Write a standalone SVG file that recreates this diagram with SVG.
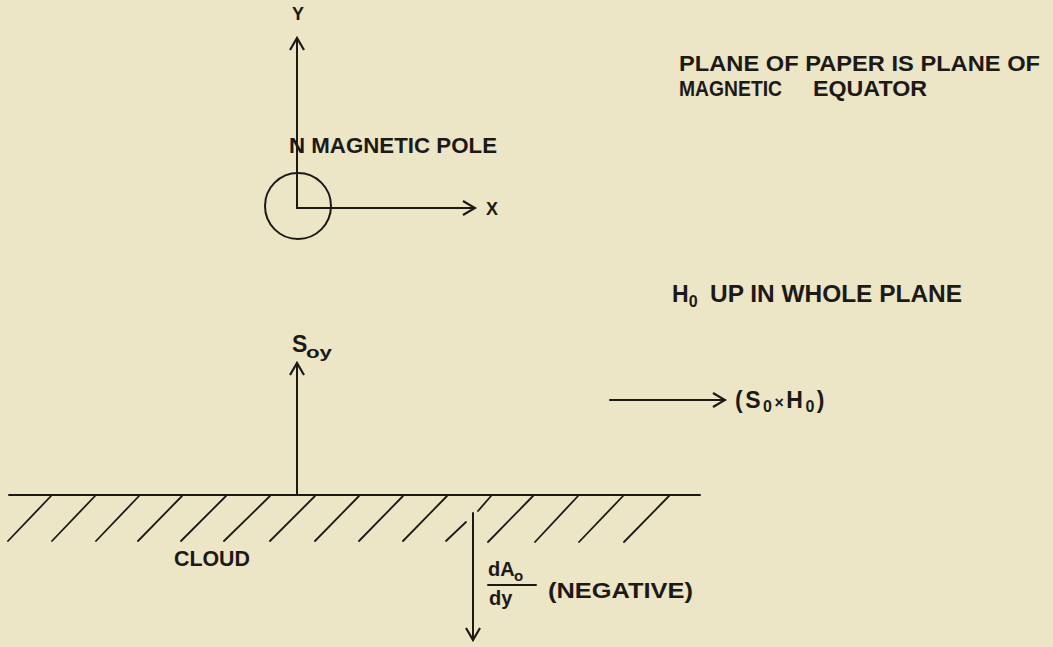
<svg xmlns="http://www.w3.org/2000/svg" width="1053" height="647" viewBox="0 0 1053 647">
  <style>
    .bg { fill: #ece5c6; }
    .ln { stroke: #1c1a17; stroke-width: 2; fill: none; stroke-linecap: round; }
    .ht { stroke: #1c1a17; stroke-width: 1.8; fill: none; stroke-linecap: round; }
    .t { font-family: "Liberation Sans", Arial, sans-serif; font-weight: bold; fill: #1c1a17; }
  </style>
  <defs>
    <marker id="ah" viewBox="-15 -9 17 18" refX="0" refY="0" markerWidth="17" markerHeight="18" markerUnits="userSpaceOnUse" orient="auto">
      <path d="M-12,-7 L0,0 L-12,7" fill="none" stroke="#1c1a17" stroke-width="2.2" stroke-linejoin="miter"/>
    </marker>
  </defs>
  <rect class="bg" x="0" y="0" width="1053" height="647"/>

  <g id="connectors">
    <line class="ln" x1="297" y1="208" x2="297" y2="38" marker-end="url(#ah)"/>
    <line class="ln" x1="297" y1="208" x2="475" y2="208" marker-end="url(#ah)"/>
    <line class="ln" x1="297" y1="495" x2="297" y2="363" marker-end="url(#ah)"/>
    <line class="ln" x1="610" y1="400" x2="725" y2="400" marker-end="url(#ah)"/>
    <line class="ln" x1="473" y1="513" x2="473" y2="640" marker-end="url(#ah)"/>
  </g>

  <g id="axes">
    <text class="t" x="298" y="20" font-size="18" text-anchor="middle">Y</text>
    <text class="t" x="486" y="215" font-size="18">X</text>
  </g>

  <g id="pole">
    <circle class="ln" cx="298" cy="206" r="33"/>
    <text class="t" x="289" y="153" font-size="22" textLength="208" lengthAdjust="spacingAndGlyphs">N MAGNETIC POLE</text>
  </g>

  <g id="note-plane">
    <text class="t" x="679" y="71" font-size="22" textLength="361" lengthAdjust="spacingAndGlyphs">PLANE OF PAPER IS PLANE OF</text>
    <text class="t" x="679" y="96" font-size="22" textLength="103" lengthAdjust="spacingAndGlyphs">MAGNETIC</text>
    <text class="t" x="813" y="96" font-size="22" textLength="114" lengthAdjust="spacingAndGlyphs">EQUATOR</text>
  </g>

  <g id="note-h0">
    <text class="t" x="672" y="302" font-size="23">H<tspan font-size="16" dy="5">0</tspan></text>
    <text class="t" x="710" y="302" font-size="23" textLength="252" lengthAdjust="spacingAndGlyphs">UP IN WHOLE PLANE</text>
  </g>

  <g id="soy">
    <text class="t" x="292" y="352" font-size="23">S</text>
    <text class="t" x="306" y="358" font-size="16" textLength="26" lengthAdjust="spacingAndGlyphs">oy</text>
  </g>

  <g id="sxh">
    <text class="t" x="735" y="408" font-size="23" letter-spacing="2.5">(S<tspan font-size="16" dy="4">0</tspan><tspan dy="-4" font-size="16">×</tspan>H<tspan font-size="16" dy="4">0</tspan><tspan dy="-4">)</tspan></text>
  </g>

  <g id="cloud">
    <line class="ln" x1="9" y1="495" x2="700" y2="495"/>
    <g class="ht">
      <line x1="8" y1="541" x2="51" y2="496"/>
      <line x1="52" y1="541" x2="95" y2="496"/>
      <line x1="96" y1="541" x2="139" y2="496"/>
      <line x1="138" y1="541" x2="182" y2="496"/>
      <line x1="181" y1="541" x2="226" y2="496"/>
      <line x1="224" y1="541" x2="270" y2="496"/>
      <line x1="270" y1="541" x2="315" y2="496"/>
      <line x1="315" y1="541" x2="359" y2="496"/>
      <line x1="359" y1="541" x2="403" y2="496"/>
      <line x1="403" y1="541" x2="447" y2="496"/>
      <line x1="446" y1="541" x2="466" y2="522"/>
      <line x1="478" y1="511" x2="491" y2="496"/>
      <line x1="488" y1="542" x2="533" y2="496"/>
      <line x1="535" y1="542" x2="578" y2="496"/>
      <line x1="579" y1="542" x2="623" y2="496"/>
      <line x1="624" y1="542" x2="669" y2="496"/>
    </g>
    <text class="t" x="174" y="566" font-size="22" textLength="76" lengthAdjust="spacingAndGlyphs">CLOUD</text>
  </g>

  <g id="dady">
    <text class="t" x="488" y="576" font-size="20">dA</text>
    <text class="t" x="514" y="581" font-size="15">o</text>
    <line class="ln" x1="488" y1="585" x2="536" y2="585"/>
    <text class="t" x="489" y="605" font-size="20">dy</text>
    <text class="t" x="548" y="598" font-size="22" textLength="145" lengthAdjust="spacingAndGlyphs">(NEGATIVE)</text>
  </g>
</svg>
